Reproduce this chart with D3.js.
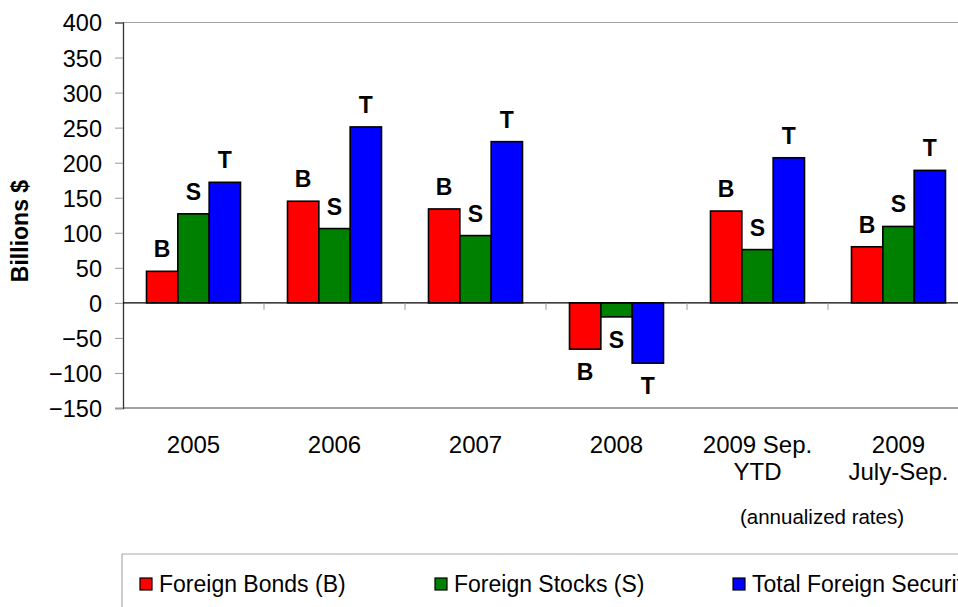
<!DOCTYPE html>
<html>
<head>
<meta charset="utf-8">
<script src="https://cdn.jsdelivr.net/npm/d3@7"></script>
<style>
  html, body { margin: 0; padding: 0; background: #fff; }
  svg { display: block; font-family: Arial, "Liberation Sans", sans-serif; }
</style>
</head>
<body>
<svg id="chart" width="958" height="607"></svg>
<script>
// Net U.S. purchases of foreign securities, billions of dollars
const categories = ["2005", "2006", "2007", "2008", "2009 Sep.\nYTD", "2009\nJuly-Sep."];
const seriesNames = ["Foreign Bonds (B)", "Foreign Stocks (S)", "Total Foreign Securities (T)"];
const seriesTags = ["B", "S", "T"];
const seriesColors = ["#ff0000", "#008000", "#0000ff"];
const bonds  = [45, 145, 134, -66, 131, 80];
const stocks = [127, 106, 96, -20, 76, 109];
const total  = [172, 251, 230, -86, 207, 189];
const yTicks = [-150, -100, -50, 0, 50, 100, 150, 200, 250, 300, 350, 400];
const yTitle = "Billions $";
const footnote = "(annualized rates)";

const seriesValues = [bonds, stocks, total];

const svg = d3.select("#chart");
const plot = { left: 123, right: 969, top: 22.5, bottom: 408 };

const x = d3.scaleBand()
  .domain(categories)
  .range([plot.left, plot.right])
  .paddingInner(0).paddingOuter(0);

const xs = d3.scaleBand()
  .domain(seriesTags)
  .range([0, x.bandwidth()])
  .paddingInner(0)
  .paddingOuter(0.75);

const y = d3.scaleLinear()
  .domain([-150, 400])
  .range([plot.bottom, plot.top]);

// Plot frame
svg.append("line")
  .attr("x1", plot.left).attr("x2", plot.right)
  .attr("y1", plot.top).attr("y2", plot.top)
  .attr("stroke", "#a0a0a0").attr("stroke-width", 1.2);
svg.append("line")
  .attr("x1", plot.left).attr("x2", plot.right)
  .attr("y1", plot.bottom).attr("y2", plot.bottom)
  .attr("stroke", "#a0a0a0").attr("stroke-width", 2);

// Y axis
const yAxis = d3.axisLeft(y)
  .tickValues(yTicks)
  .tickSize(8)
  .tickPadding(13)
  .tickFormat(d3.format("d"));

const yg = svg.append("g")
  .attr("transform", `translate(${plot.left},0)`)
  .call(yAxis);
yg.select(".domain").attr("stroke", "#333").attr("stroke-width", 1.3);
yg.selectAll(".tick line").attr("stroke", "#999").attr("stroke-width", 1);
yg.selectAll(".tick text")
  .attr("fill", "#000")
  .style("font-size", "23.5px")
  .attr("dy", "0.36em");

// Axis title
svg.append("text")
  .attr("transform", "translate(27.5,231) rotate(-90)")
  .attr("text-anchor", "middle")
  .style("font-size", "23px")
  .style("font-weight", "bold")
  .text(yTitle);

// Bars
const groups = svg.append("g").selectAll("g")
  .data(categories)
  .join("g")
  .attr("transform", d => `translate(${x(d)},0)`);

groups.selectAll("rect")
  .data((c, i) => seriesValues.map((vals, s) => ({ tag: seriesTags[s], color: seriesColors[s], v: vals[i] })))
  .join("rect")
  .attr("x", d => xs(d.tag))
  .attr("width", xs.bandwidth())
  .attr("y", d => y(Math.max(0, d.v)))
  .attr("height", d => Math.abs(y(d.v) - y(0)))
  .attr("fill", d => d.color)
  .attr("stroke", "#000")
  .attr("stroke-width", 1.6);

// Letter tags above (or below) each bar
groups.selectAll("text.tag")
  .data((c, i) => seriesValues.map((vals, s) => ({ tag: seriesTags[s], v: vals[i] })))
  .join("text")
  .attr("class", "tag")
  .attr("x", d => xs(d.tag) + xs.bandwidth() / 2)
  .attr("y", d => d.v >= 0 ? y(d.v) - 14 : y(d.v) + 31)
  .attr("text-anchor", "middle")
  .style("font-size", "23px")
  .style("font-weight", "bold")
  .text(d => d.tag);

// Zero line with category separators
svg.append("line")
  .attr("x1", plot.left).attr("x2", plot.right)
  .attr("y1", y(0)).attr("y2", y(0))
  .attr("stroke", "#000").attr("stroke-width", 1.3);
svg.append("g").selectAll("line")
  .data(categories.slice(1))
  .join("line")
  .attr("x1", d => x(d)).attr("x2", d => x(d))
  .attr("y1", y(0)).attr("y2", y(0) + 7)
  .attr("stroke", "#999").attr("stroke-width", 1);

// Category labels
svg.append("g").selectAll("text")
  .data(categories)
  .join("text")
  .attr("x", d => x(d) + x.bandwidth() / 2)
  .attr("y", 453)
  .attr("text-anchor", "middle")
  .style("font-size", "24px")
  .each(function (d) {
    const t = d3.select(this);
    d.split("\n").forEach((line, k) => {
      t.append("tspan")
        .attr("x", x(d) + x.bandwidth() / 2)
        .attr("dy", k === 0 ? 0 : 27)
        .text(line);
    });
  });

svg.append("text")
  .attr("x", 822)
  .attr("y", 524)
  .attr("text-anchor", "middle")
  .style("font-size", "20.5px")
  .text(footnote);

// Legend
const legendTop = 554;
svg.append("line")
  .attr("x1", 122).attr("x2", 958)
  .attr("y1", legendTop).attr("y2", legendTop)
  .attr("stroke", "#aaa").attr("stroke-width", 1.2);
svg.append("line")
  .attr("x1", 122).attr("x2", 122)
  .attr("y1", legendTop).attr("y2", 607)
  .attr("stroke", "#aaa").attr("stroke-width", 1.2);

const legendX = [140, 435, 733];
const legend = svg.append("g").selectAll("g")
  .data(seriesNames)
  .join("g")
  .attr("transform", (d, i) => `translate(${legendX[i]},0)`);
legend.append("rect")
  .attr("x", 0).attr("y", 578)
  .attr("width", 12).attr("height", 12)
  .attr("fill", (d, i) => seriesColors[i])
  .attr("stroke", "#000").attr("stroke-width", 1.2);
legend.append("text")
  .attr("x", 19).attr("y", 592)
  .style("font-size", "23px")
  .text(d => d);
</script>
</body>
</html>
